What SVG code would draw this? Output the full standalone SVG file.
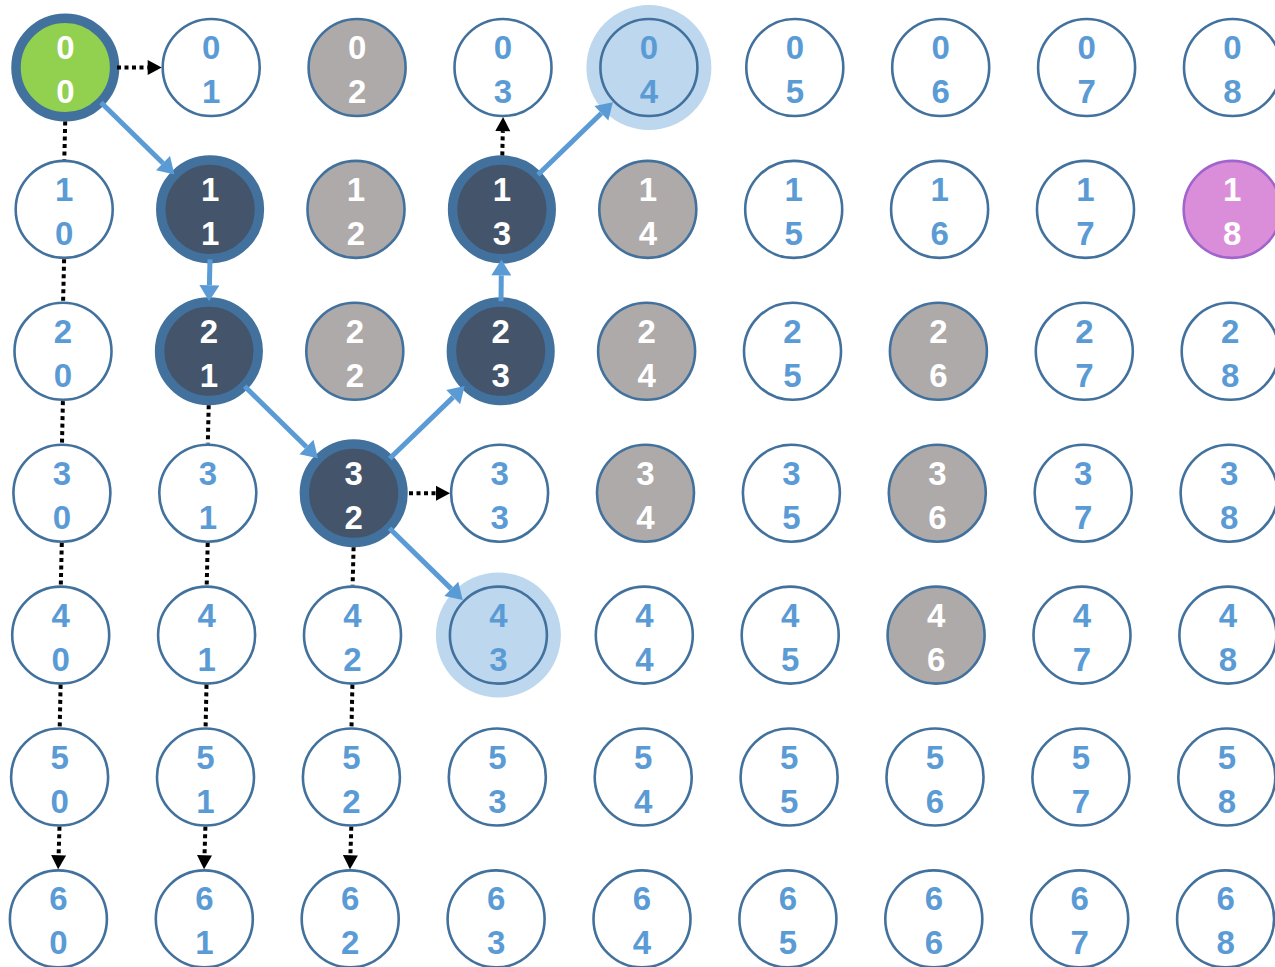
<svg xmlns="http://www.w3.org/2000/svg" width="1275" height="967" viewBox="0 0 1275 967">
<style>
text{font-family:"Liberation Sans",Arial,sans-serif;font-weight:bold;font-size:33px;text-anchor:middle}
.plain circle{fill:#fff;stroke:#41719C;stroke-width:2.6}
.plain text{fill:#5B9BD5}
.gray circle{fill:#AEAAAA;stroke:#41719C;stroke-width:2.6}
.gray text{fill:#fff}
.dark circle{fill:#44546A;stroke:#41719C;stroke-width:9.5}
.dark text{fill:#fff}
.green circle{fill:#92D050;stroke:#41719C;stroke-width:9.5}
.green text{fill:#fff}
.pink circle{fill:#DA8EDA;stroke:#A064CC;stroke-width:2.6}
.pink text{fill:#fff}
.halo .h{fill:#BDD7EE;stroke:none}
.halo .c{fill:#BDD7EE;stroke:#41719C;stroke-width:2.6}
.halo text{fill:#5B9BD5}
.blue{stroke:#5B9BD5;stroke-width:5;fill:none;marker-end:url(#ab)}
.dot{stroke:#000;stroke-width:4;stroke-dasharray:4 3.5;fill:none}
.dota{stroke:#000;stroke-width:4;stroke-dasharray:4 3.5;fill:none;marker-end:url(#ak)}
</style>
<defs>
<marker id="ab" viewBox="0 -10 16 20" markerWidth="16" markerHeight="20" refX="0" refY="0" orient="auto" markerUnits="userSpaceOnUse" overflow="visible"><path d="M0,-10 L16,0 L0,10 z" fill="#5B9BD5"/></marker>
<marker id="ak" viewBox="0 -7.5 14 15" markerWidth="14" markerHeight="15" refX="0" refY="0" orient="auto" markerUnits="userSpaceOnUse" overflow="visible"><path d="M0,-7.5 L14,0 L0,7.5 z" fill="#000"/></marker>
</defs>
<g id="nodes">
<g id="n00" class="green" transform="translate(65.3,67.5)"><circle r="49.3"/><text y="-8.5">0</text><text y="35.5">0</text></g>
<g id="n01" class="plain" transform="translate(211.2,67.5)"><circle r="48.5"/><text y="-8.5">0</text><text y="35.5">1</text></g>
<g id="n02" class="gray" transform="translate(357.1,67.5)"><circle r="48.5"/><text y="-8.5">0</text><text y="35.5">2</text></g>
<g id="n03" class="plain" transform="translate(503.0,67.5)"><circle r="48.5"/><text y="-8.5">0</text><text y="35.5">3</text></g>
<g id="n04" class="halo" transform="translate(648.9,67.5)"><circle class="h" r="62.5"/><circle class="c" r="48.5"/><text y="-8.5">0</text><text y="35.5">4</text></g>
<g id="n05" class="plain" transform="translate(794.8,67.5)"><circle r="48.5"/><text y="-8.5">0</text><text y="35.5">5</text></g>
<g id="n06" class="plain" transform="translate(940.7,67.5)"><circle r="48.5"/><text y="-8.5">0</text><text y="35.5">6</text></g>
<g id="n07" class="plain" transform="translate(1086.6,67.5)"><circle r="48.5"/><text y="-8.5">0</text><text y="35.5">7</text></g>
<g id="n08" class="plain" transform="translate(1232.5,67.5)"><circle r="48.5"/><text y="-8.5">0</text><text y="35.5">8</text></g>

<g id="n10" class="plain" transform="translate(64.2,209.4)"><circle r="48.5"/><text y="-8.5">1</text><text y="35.5">0</text></g>
<g id="n11" class="dark" transform="translate(210.1,209.4)"><circle r="49.3"/><text y="-8.5">1</text><text y="35.5">1</text></g>
<g id="n12" class="gray" transform="translate(356.0,209.4)"><circle r="48.5"/><text y="-8.5">1</text><text y="35.5">2</text></g>
<g id="n13" class="dark" transform="translate(501.9,209.4)"><circle r="49.3"/><text y="-8.5">1</text><text y="35.5">3</text></g>
<g id="n14" class="gray" transform="translate(647.8,209.4)"><circle r="48.5"/><text y="-8.5">1</text><text y="35.5">4</text></g>
<g id="n15" class="plain" transform="translate(793.7,209.4)"><circle r="48.5"/><text y="-8.5">1</text><text y="35.5">5</text></g>
<g id="n16" class="plain" transform="translate(939.6,209.4)"><circle r="48.5"/><text y="-8.5">1</text><text y="35.5">6</text></g>
<g id="n17" class="plain" transform="translate(1085.5,209.4)"><circle r="48.5"/><text y="-8.5">1</text><text y="35.5">7</text></g>
<g id="n18" class="pink" transform="translate(1232.2,209.4)"><circle r="48.5"/><text y="-8.5">1</text><text y="35.5">8</text></g>

<g id="n20" class="plain" transform="translate(63.0,351.3)"><circle r="48.5"/><text y="-8.5">2</text><text y="35.5">0</text></g>
<g id="n21" class="dark" transform="translate(208.9,351.3)"><circle r="49.3"/><text y="-8.5">2</text><text y="35.5">1</text></g>
<g id="n22" class="gray" transform="translate(354.8,351.3)"><circle r="48.5"/><text y="-8.5">2</text><text y="35.5">2</text></g>
<g id="n23" class="dark" transform="translate(500.7,351.3)"><circle r="49.3"/><text y="-8.5">2</text><text y="35.5">3</text></g>
<g id="n24" class="gray" transform="translate(646.6,351.3)"><circle r="48.5"/><text y="-8.5">2</text><text y="35.5">4</text></g>
<g id="n25" class="plain" transform="translate(792.5,351.3)"><circle r="48.5"/><text y="-8.5">2</text><text y="35.5">5</text></g>
<g id="n26" class="gray" transform="translate(938.4,351.3)"><circle r="48.5"/><text y="-8.5">2</text><text y="35.5">6</text></g>
<g id="n27" class="plain" transform="translate(1084.3,351.3)"><circle r="48.5"/><text y="-8.5">2</text><text y="35.5">7</text></g>
<g id="n28" class="plain" transform="translate(1230.2,351.3)"><circle r="48.5"/><text y="-8.5">2</text><text y="35.5">8</text></g>

<g id="n30" class="plain" transform="translate(61.9,493.2)"><circle r="48.5"/><text y="-8.5">3</text><text y="35.5">0</text></g>
<g id="n31" class="plain" transform="translate(207.8,493.2)"><circle r="48.5"/><text y="-8.5">3</text><text y="35.5">1</text></g>
<g id="n32" class="dark" transform="translate(353.7,493.2)"><circle r="49.3"/><text y="-8.5">3</text><text y="35.5">2</text></g>
<g id="n33" class="plain" transform="translate(499.6,493.2)"><circle r="48.5"/><text y="-8.5">3</text><text y="35.5">3</text></g>
<g id="n34" class="gray" transform="translate(645.5,493.2)"><circle r="48.5"/><text y="-8.5">3</text><text y="35.5">4</text></g>
<g id="n35" class="plain" transform="translate(791.4,493.2)"><circle r="48.5"/><text y="-8.5">3</text><text y="35.5">5</text></g>
<g id="n36" class="gray" transform="translate(937.3,493.2)"><circle r="48.5"/><text y="-8.5">3</text><text y="35.5">6</text></g>
<g id="n37" class="plain" transform="translate(1083.2,493.2)"><circle r="48.5"/><text y="-8.5">3</text><text y="35.5">7</text></g>
<g id="n38" class="plain" transform="translate(1229.1,493.2)"><circle r="48.5"/><text y="-8.5">3</text><text y="35.5">8</text></g>

<g id="n40" class="plain" transform="translate(60.7,635.1)"><circle r="48.5"/><text y="-8.5">4</text><text y="35.5">0</text></g>
<g id="n41" class="plain" transform="translate(206.6,635.1)"><circle r="48.5"/><text y="-8.5">4</text><text y="35.5">1</text></g>
<g id="n42" class="plain" transform="translate(352.5,635.1)"><circle r="48.5"/><text y="-8.5">4</text><text y="35.5">2</text></g>
<g id="n43" class="halo" transform="translate(498.4,635.1)"><circle class="h" r="62.5"/><circle class="c" r="48.5"/><text y="-8.5">4</text><text y="35.5">3</text></g>
<g id="n44" class="plain" transform="translate(644.3,635.1)"><circle r="48.5"/><text y="-8.5">4</text><text y="35.5">4</text></g>
<g id="n45" class="plain" transform="translate(790.2,635.1)"><circle r="48.5"/><text y="-8.5">4</text><text y="35.5">5</text></g>
<g id="n46" class="gray" transform="translate(936.1,635.1)"><circle r="48.5"/><text y="-8.5">4</text><text y="35.5">6</text></g>
<g id="n47" class="plain" transform="translate(1082.0,635.1)"><circle r="48.5"/><text y="-8.5">4</text><text y="35.5">7</text></g>
<g id="n48" class="plain" transform="translate(1227.9,635.1)"><circle r="48.5"/><text y="-8.5">4</text><text y="35.5">8</text></g>

<g id="n50" class="plain" transform="translate(59.6,777.0)"><circle r="48.5"/><text y="-8.5">5</text><text y="35.5">0</text></g>
<g id="n51" class="plain" transform="translate(205.5,777.0)"><circle r="48.5"/><text y="-8.5">5</text><text y="35.5">1</text></g>
<g id="n52" class="plain" transform="translate(351.4,777.0)"><circle r="48.5"/><text y="-8.5">5</text><text y="35.5">2</text></g>
<g id="n53" class="plain" transform="translate(497.3,777.0)"><circle r="48.5"/><text y="-8.5">5</text><text y="35.5">3</text></g>
<g id="n54" class="plain" transform="translate(643.2,777.0)"><circle r="48.5"/><text y="-8.5">5</text><text y="35.5">4</text></g>
<g id="n55" class="plain" transform="translate(789.1,777.0)"><circle r="48.5"/><text y="-8.5">5</text><text y="35.5">5</text></g>
<g id="n56" class="plain" transform="translate(935.0,777.0)"><circle r="48.5"/><text y="-8.5">5</text><text y="35.5">6</text></g>
<g id="n57" class="plain" transform="translate(1080.9,777.0)"><circle r="48.5"/><text y="-8.5">5</text><text y="35.5">7</text></g>
<g id="n58" class="plain" transform="translate(1226.8,777.0)"><circle r="48.5"/><text y="-8.5">5</text><text y="35.5">8</text></g>

<g id="n60" class="plain" transform="translate(58.4,918.9)"><circle r="48.5"/><text y="-8.5">6</text><text y="35.5">0</text></g>
<g id="n61" class="plain" transform="translate(204.3,918.9)"><circle r="48.5"/><text y="-8.5">6</text><text y="35.5">1</text></g>
<g id="n62" class="plain" transform="translate(350.2,918.9)"><circle r="48.5"/><text y="-8.5">6</text><text y="35.5">2</text></g>
<g id="n63" class="plain" transform="translate(496.1,918.9)"><circle r="48.5"/><text y="-8.5">6</text><text y="35.5">3</text></g>
<g id="n64" class="plain" transform="translate(642.0,918.9)"><circle r="48.5"/><text y="-8.5">6</text><text y="35.5">4</text></g>
<g id="n65" class="plain" transform="translate(787.9,918.9)"><circle r="48.5"/><text y="-8.5">6</text><text y="35.5">5</text></g>
<g id="n66" class="plain" transform="translate(933.8,918.9)"><circle r="48.5"/><text y="-8.5">6</text><text y="35.5">6</text></g>
<g id="n67" class="plain" transform="translate(1079.7,918.9)"><circle r="48.5"/><text y="-8.5">6</text><text y="35.5">7</text></g>
<g id="n68" class="plain" transform="translate(1225.6,918.9)"><circle r="48.5"/><text y="-8.5">6</text><text y="35.5">8</text></g>
</g>
<g id="connectors">
<line class="blue" x1="101.0" y1="102.5" x2="163.0" y2="163.2"/>
<line class="blue" x1="210.0" y1="259.4" x2="209.4" y2="285.3"/>
<line class="blue" x1="244.6" y1="386.3" x2="306.5" y2="447.0"/>
<line class="blue" x1="389.7" y1="458.5" x2="453.2" y2="397.1"/>
<line class="blue" x1="501.0" y1="301.3" x2="501.3" y2="275.4"/>
<line class="blue" x1="537.9" y1="174.7" x2="601.4" y2="113.3"/>
<line class="blue" x1="389.4" y1="528.2" x2="451.3" y2="588.9"/>

<line class="dota" x1="117" y1="67.5" x2="147.7" y2="67.5"/>
<line class="dota" x1="502.3" y1="155.4" x2="502.8" y2="131.1"/>
<line class="dota" x1="409" y1="493.2" x2="436" y2="493.2"/>

<line class="dot" x1="65.2" y1="121.5" x2="64.3" y2="159.5"/>
<line class="dot" x1="64.1" y1="259.2" x2="63.1" y2="301.5"/>
<line class="dot" x1="62.9" y1="401.1" x2="62.0" y2="443.4"/>
<line class="dot" x1="61.8" y1="543.0" x2="60.8" y2="585.3"/>
<line class="dot" x1="60.6" y1="684.9" x2="59.7" y2="727.2"/>
<line class="dota" x1="59.5" y1="826.8" x2="58.6" y2="855.3"/>

<line class="dot" x1="208.7" y1="405.3" x2="207.8" y2="443.4"/>
<line class="dot" x1="207.7" y1="543.0" x2="206.7" y2="585.3"/>
<line class="dot" x1="206.5" y1="684.9" x2="205.6" y2="727.2"/>
<line class="dota" x1="205.4" y1="826.8" x2="204.5" y2="855.3"/>

<line class="dot" x1="353.6" y1="547.2" x2="352.6" y2="585.3"/>
<line class="dot" x1="352.4" y1="684.9" x2="351.5" y2="727.2"/>
<line class="dota" x1="351.3" y1="826.8" x2="350.4" y2="855.3"/>
</g>
</svg>
